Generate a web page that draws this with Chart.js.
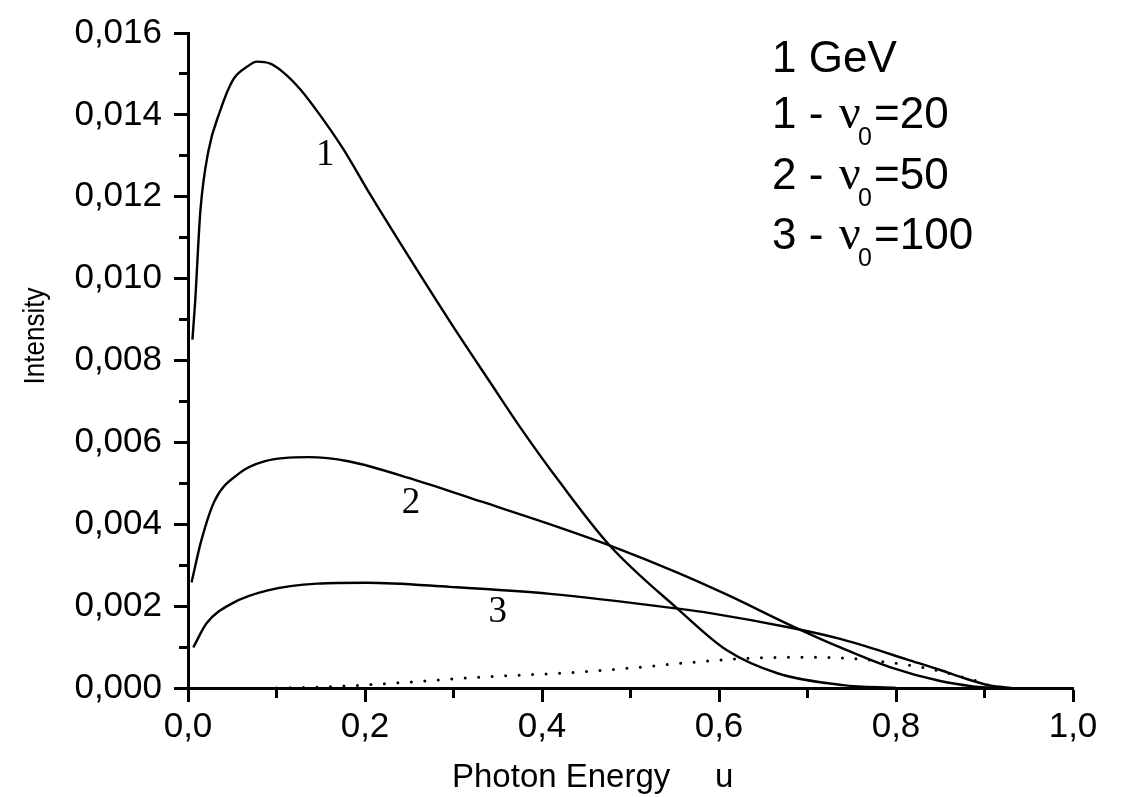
<!DOCTYPE html>
<html>
<head>
<meta charset="utf-8">
<script src="https://cdn.jsdelivr.net/npm/chart.js@4/dist/chart.umd.min.js"></script>
<style>
  html, body { margin: 0; padding: 0; background: #fff; }
  #wrap { width: 1128px; height: 797px; }
</style>
</head>
<body>
<div id="wrap"><canvas id="c" width="1128" height="797"></canvas></div>
<script>
// ---- data ----
const u1 = [0.005, 0.008, 0.014, 0.023, 0.036, 0.051, 0.067, 0.078, 0.093, 0.107, 0.127, 0.149, 0.175, 0.206, 0.251, 0.296, 0.341, 0.375, 0.420, 0.477, 0.553, 0.609, 0.666, 0.740, 0.800];
const i1 = [0.00851, 0.00941, 0.01166, 0.01311, 0.01408, 0.01486, 0.01518, 0.01530, 0.01525, 0.01505, 0.01462, 0.01400, 0.01318, 0.01205, 0.01048, 0.00895, 0.00748, 0.00638, 0.00503, 0.00347, 0.00194, 0.00092, 0.00036, 0.00007, 0.0];

const u2 = [0.004, 0.015, 0.030, 0.057, 0.087, 0.136, 0.181, 0.257, 0.332, 0.420, 0.477, 0.553, 0.609, 0.684, 0.737, 0.793, 0.850, 0.887, 0.910];
const i2 = [0.00258, 0.00360, 0.00457, 0.00523, 0.00554, 0.00564, 0.00554, 0.00508, 0.00455, 0.00392, 0.00348, 0.00282, 0.00228, 0.00150, 0.00099, 0.00051, 0.00017, 0.00004, 0.0];

const u3 = [0.006, 0.021, 0.051, 0.089, 0.146, 0.202, 0.296, 0.409, 0.553, 0.590, 0.684, 0.737, 0.767, 0.812, 0.850, 0.880, 0.906, 0.930];
const i3 = [0.00099, 0.00158, 0.00208, 0.00238, 0.00255, 0.00257, 0.00247, 0.00230, 0.00194, 0.00183, 0.00146, 0.00120, 0.00101, 0.00070, 0.00044, 0.00022, 0.00006, 0.0];

const uDot = [0.100, 0.160, 0.219, 0.332, 0.420, 0.496, 0.571, 0.635, 0.684, 0.742, 0.790, 0.835, 0.880, 0.898, 0.912];
const iDot = [0.0, 0.00003, 0.00010, 0.00027, 0.00036, 0.00048, 0.00063, 0.00073, 0.00075, 0.00073, 0.00063, 0.00048, 0.00024, 0.00012, 0.0];

const curveLabels = ['1', '2', '3'];
const curveLabelU = [0.155, 0.252, 0.350];
const curveLabelI = [0.01302, 0.00451, 0.00184];

const legendTitle = '1 GeV';
const legendIndex = ['1', '2', '3'];
const legendNu = ['20', '50', '100'];

const xTitle = 'Photon Energy';
const xUnit = 'u';
const yTitle = 'Intensity';

const xMin = 0, xMax = 1.0, xStep = 0.1;
const yMin = 0, yMax = 0.016, yStep = 0.001;
// ---------------------------------------

const pts = (u, v) => u.map((x, k) => ({ x: x, y: v[k] }));

const SANS = '"Liberation Sans", Arial, Helvetica, sans-serif';
const SERIF = '"Liberation Serif", "Times New Roman", serif';

const annotations = {
  id: 'annotations',
  afterDatasetsDraw(chart) {
    const ctx = chart.ctx;
    const xs = chart.scales.x, ys = chart.scales.y;
    ctx.save();
    ctx.fillStyle = '#000';
    // curve numbers
    ctx.font = '37px ' + SERIF;
    ctx.textAlign = 'center';
    ctx.textBaseline = 'middle';
    curveLabels.forEach((t, k) => {
      ctx.fillText(t, xs.getPixelForValue(curveLabelU[k]), ys.getPixelForValue(curveLabelI[k]));
    });
    // legend block
    ctx.textAlign = 'left';
    ctx.textBaseline = 'alphabetic';
    const lx = 772;
    ctx.font = '44px ' + SANS;
    ctx.fillText(legendTitle, lx, 72);
    const rows = [128, 189, 249];
    legendIndex.forEach((t, k) => {
      const by = rows[k];
      ctx.font = '44px ' + SANS;
      ctx.fillText(t + ' -', lx, by);
      ctx.font = '48px ' + SERIF;
      ctx.fillText('\u03BD', lx + 67, by);
      ctx.font = '25px ' + SANS;
      ctx.fillText('0', lx + 86, by + 17);
      ctx.font = '44px ' + SANS;
      ctx.fillText('=' + legendNu[k], lx + 102, by);
    });
    // axis titles
    ctx.font = '33px ' + SANS;
    ctx.fillText(xTitle, 452, 787);
    ctx.fillText(xUnit, 715, 787);
    ctx.save();
    ctx.translate(44, 336);
    ctx.rotate(-Math.PI / 2);
    ctx.scale(0.87, 1);
    ctx.font = '30px ' + SANS;
    ctx.textAlign = 'center';
    ctx.fillText(yTitle, 0, 0);
    ctx.restore();
    ctx.restore();
  }
};

const lineDs = (data) => ({
  data: data,
  borderColor: '#000',
  borderWidth: 2.4,
  pointRadius: 0,
  fill: false,
  cubicInterpolationMode: 'monotone'
});

const dotted = Object.assign(lineDs(pts(uDot, iDot)), {
  borderWidth: 3,
  borderDash: [0, 13.5],
  borderCapStyle: 'round'
});

new Chart(document.getElementById('c'), {
  type: 'line',
  data: {
    datasets: [
      lineDs(pts(u1, i1)),
      lineDs(pts(u2, i2)),
      lineDs(pts(u3, i3)),
      dotted
    ]
  },
  options: {
    responsive: false,
    animation: false,
    devicePixelRatio: 1,
    layout: { padding: { top: 28, right: 55, left: 0, bottom: 0 } },
    plugins: { legend: { display: false }, tooltip: { enabled: false } },
    scales: {
      x: {
        type: 'linear',
        min: xMin, max: xMax,
        afterFit(s) { s.height = 109; },
        border: { display: true, color: '#000', width: 3 },
        grid: {
          display: true,
          drawOnChartArea: false,
          drawTicks: true,
          tickLength: 14,
          tickWidth: 3,
          tickColor: '#000',
          tickBorderDash: (c) => (c.index % 2 === 0 ? [] : [8, 100])
        },
        ticks: {
          stepSize: xStep,
          autoSkip: false,
          maxRotation: 0,
          padding: 4,
          color: '#000',
          font: { family: SANS, size: 35 },
          callback: (v, idx) => (idx % 2 === 0 ? Number(v).toFixed(1).replace('.', ',') : '')
        }
      },
      y: {
        type: 'linear',
        min: yMin, max: yMax,
        afterFit(s) { s.width = 188; },
        border: { display: true, color: '#000', width: 3 },
        grid: {
          display: true,
          drawOnChartArea: false,
          drawTicks: true,
          tickLength: 14,
          tickWidth: 3,
          tickColor: '#000',
          tickBorderDash: (c) => (c.index % 2 === 0 ? [] : [0, 5, 8, 100])
        },
        ticks: {
          stepSize: yStep,
          autoSkip: false,
          padding: 12,
          color: '#000',
          font: { family: SANS, size: 35 },
          callback: (v, idx) => (idx % 2 === 0 ? Number(v).toFixed(3).replace('.', ',') : '')
        }
      }
    }
  },
  plugins: [annotations]
});
</script>
</body>
</html>
